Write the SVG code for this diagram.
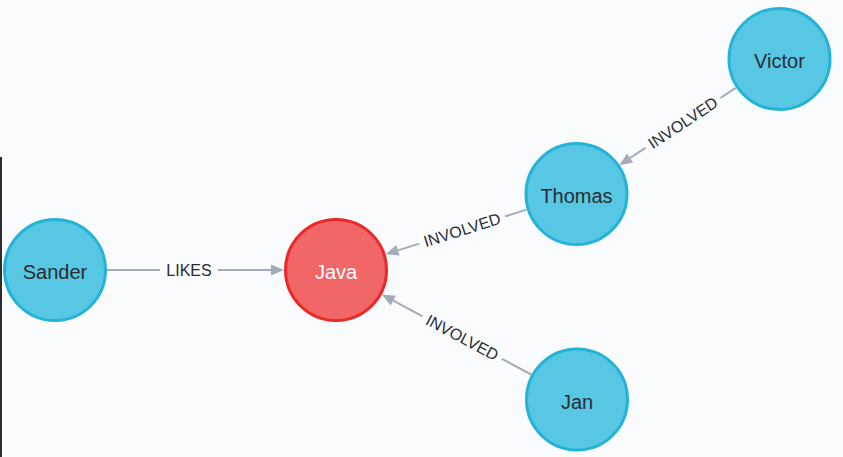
<svg xmlns="http://www.w3.org/2000/svg" width="843" height="457" viewBox="0 0 843 457">
<style>
.node circle{stroke-width:3}
.person circle{fill:#57c7e3;stroke:#23b3d7}
.lang circle{fill:#f16667;stroke:#eb2728}
.node text{font-family:"Liberation Sans",Arial,sans-serif;font-size:20px;text-anchor:middle;fill:#2a2c34}
.lang text{fill:#ffffff}
.edge line{stroke:#a5abb6;stroke-width:2}
.edge polygon{fill:#a5abb6}
.edge text{font-family:"Liberation Sans",Arial,sans-serif;font-size:16px;text-anchor:middle;fill:#2a2c34}
</style>
<rect width="843" height="457" fill="#f9fbfd"/>
<rect x="0" y="157" width="2" height="300" fill="#2d2d2d"/>
<g id="connectors">
  <g class="edge" id="e-sander-java" transform="translate(189,270)">
    <line x1="-82" y1="0" x2="-29" y2="0"/>
    <line x1="29" y1="0" x2="82" y2="0"/>
    <polygon points="82,-5.5 95,0 82,5.5"/>
    <text x="0" y="5.5">LIKES</text>
  </g>
  <g class="edge" id="e-thomas-java" transform="translate(462.2,230) rotate(-17.57)">
    <line x1="45" y1="0" x2="67.4" y2="0"/>
    <line x1="-45" y1="0" x2="-67.4" y2="0"/>
    <polygon points="-67.4,-5.5 -80.4,0 -67.4,5.5"/>
    <text x="0" y="5.5">INVOLVED</text>
  </g>
  <g class="edge" id="e-victor-thomas" transform="translate(682.9,122.9) rotate(-33.62)">
    <line x1="45" y1="0" x2="63.4" y2="0"/>
    <line x1="-45" y1="0" x2="-63.4" y2="0"/>
    <polygon points="-63.4,-5.5 -76.4,0 -63.4,5.5"/>
    <text x="0" y="5.5">INVOLVED</text>
  </g>
  <g class="edge" id="e-jan-java" transform="translate(462.2,337.6) rotate(28.16)">
    <line x1="45" y1="0" x2="78.2" y2="0"/>
    <line x1="-45" y1="0" x2="-78.2" y2="0"/>
    <polygon points="-78.2,-5.5 -91.2,0 -78.2,5.5"/>
    <text x="0" y="5.5">INVOLVED</text>
  </g>
</g>
<g class="node person" id="sander"><circle cx="55" cy="270" r="50.5"/><text x="55" y="279">Sander</text></g>
<g class="node lang" id="java"><circle cx="336" cy="270" r="50.5"/><text x="336" y="279">Java</text></g>
<g class="node person" id="thomas"><circle cx="576.5" cy="194" r="50.5"/><text x="576.5" y="203">Thomas</text></g>
<g class="node person" id="victor"><circle cx="779.5" cy="59" r="50.5"/><text x="779.5" y="68">Victor</text></g>
<g class="node person" id="jan"><circle cx="577" cy="399.5" r="50.5"/><text x="577" y="408.5">Jan</text></g>
</svg>
